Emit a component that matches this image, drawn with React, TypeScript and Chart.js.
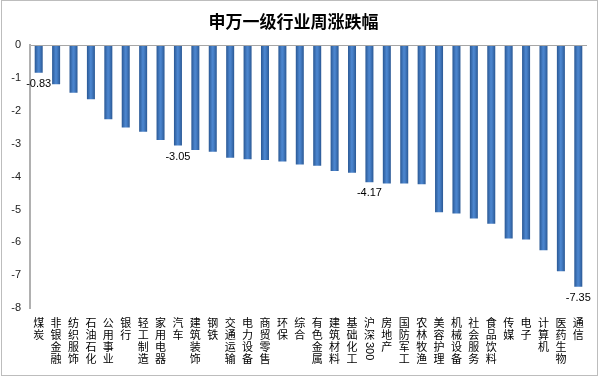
import React, { useEffect, useRef } from "react";
import { Chart, registerables } from "chart.js";

Chart.register(...registerables);

const TITLE = "申万一级行业周涨跌幅";

const categories: string[] = [
  "煤炭", "非银金融", "纺织服饰", "石油石化", "公用事业", "银行", "轻工制造", "家用电器",
  "汽车", "建筑装饰", "钢铁", "交通运输", "电力设备", "商贸零售", "环保", "综合",
  "有色金属", "建筑材料", "基础化工", "沪深300", "房地产", "国防军工", "农林牧渔", "美容护理",
  "机械设备", "社会服务", "食品饮料", "传媒", "电子", "计算机", "医药生物", "通信",
];

const values: number[] = [
  -0.83, -1.18, -1.44, -1.64, -2.25, -2.5, -2.63, -2.88,
  -3.05, -3.19, -3.24, -3.42, -3.47, -3.49, -3.54, -3.63,
  -3.67, -3.83, -3.88, -4.17, -4.21, -4.21, -4.23, -5.08,
  -5.12, -5.27, -5.43, -5.88, -5.91, -6.24, -6.88, -7.35,
];

const labeledIndices: number[] = [0, 8, 19, 31];

const yTicks: number[] = [0, -1, -2, -3, -4, -5, -6, -7, -8];

const CJK_FONT = '"Noto Sans CJK SC", "Noto Sans", sans-serif';
const NUM_FONT = '"Liberation Sans", "DejaVu Sans", sans-serif';

const frameAndLabels = {
  id: "frameAndLabels",
  beforeDraw(chart: any) {
    const c = chart.ctx;
    c.save();
    c.fillStyle = "#ffffff";
    c.fillRect(0, 0, chart.width, chart.height);
    c.strokeStyle = "#bdbdbd";
    c.lineWidth = 1;
    c.strokeRect(1.5, 0.5, chart.width - 4, chart.height - 2);
    c.restore();
  },
  afterDatasetsDraw(chart: any) {
    const c = chart.ctx;
    const meta = chart.getDatasetMeta(0);
    c.save();
    c.fillStyle = "#000000";
    c.font = `11px ${NUM_FONT}`;
    c.textAlign = "center";
    c.textBaseline = "middle";
    labeledIndices.forEach((i) => {
      const el = meta.data[i];
      if (!el) return;
      const v = chart.data.datasets[0].data[i] as number;
      c.fillText(v.toFixed(2), el.x, el.y + 11);
    });
    c.restore();
  },
  afterDraw(chart: any) {
    const c = chart.ctx;
    const xs = chart.scales.x;
    const labels: string[] = chart.data.labels;
    const top = chart.chartArea.bottom + 15;
    const lh = 12;
    c.save();
    c.fillStyle = "#000000";
    c.textBaseline = "middle";
    labels.forEach((lab, i) => {
      const x = xs.getPixelForValue(i);
      let y = top;
      const parts = lab.match(/[0-9A-Za-z]+|./g) || [];
      parts.forEach((p) => {
        if (/^[0-9A-Za-z]+$/.test(p)) {
          c.font = `11px ${NUM_FONT}`;
          const w = c.measureText(p).width;
          c.save();
          c.translate(x, y - lh / 2 + w / 2 + 1);
          c.rotate(Math.PI / 2);
          c.textAlign = "center";
          c.fillText(p, 0, 0);
          c.restore();
          y += w + 2;
        } else {
          c.font = `11px ${CJK_FONT}`;
          c.textAlign = "center";
          c.fillText(p, x, y);
          y += lh;
        }
      });
    });
    c.restore();
  },
};

export default function App() {
  const ref = useRef<HTMLCanvasElement>(null);

  useEffect(() => {
    if (!ref.current) return;
    const chart = new Chart(ref.current, {
      type: "bar",
      data: {
        labels: categories,
        datasets: [
          {
            data: values,
            backgroundColor: (ctx: any) => {
              const chart = ctx.chart;
              const xs = chart.scales && chart.scales.x;
              if (!xs || ctx.type !== "data") return "#3a6fb6";
              const cx = xs.getPixelForValue(ctx.dataIndex);
              if (!Number.isFinite(cx)) return "#3a6fb6";
              const w = 8;
              const g = chart.ctx.createLinearGradient(cx - w / 2, 0, cx + w / 2, 0);
              g.addColorStop(0, "#2a5894");
              g.addColorStop(0.45, "#4c86cf");
              g.addColorStop(0.6, "#4780c8");
              g.addColorStop(1, "#2a5894");
              return g;
            },
            borderWidth: 0,
            barPercentage: 0.46,
            categoryPercentage: 1,
          },
        ],
      },
      options: {
        responsive: false,
        animation: false,
        layout: { padding: { left: 0, right: 13, top: 0, bottom: 0 } },
        plugins: {
          legend: { display: false },
          tooltip: { enabled: false },
          title: {
            display: true,
            text: TITLE,
            color: "#000000",
            font: { family: CJK_FONT, size: 17, weight: "bold", lineHeight: 1.2 },
            padding: { top: 11, bottom: 14 },
          },
        },
        scales: {
          x: {
            offset: true,
            grid: { display: false, drawTicks: false },
            border: { display: false },
            ticks: { display: false },
            afterFit: (scale: any) => {
              scale.height = 69;
            },
          },
          y: {
            min: -8,
            max: 0,
            afterBuildTicks: (scale: any) => {
              scale.ticks = yTicks.map((v) => ({ value: v }));
            },
            grid: {
              drawTicks: false,
              color: (ctx: any) => (ctx.tick && ctx.tick.value === 0 ? "#a6a6a6" : "rgba(0,0,0,0)"),
              lineWidth: 1,
            },
            border: { display: true, color: "#b0b0b0", width: 2 },
            ticks: {
              color: "#222222",
              font: { family: NUM_FONT, size: 11 },
              padding: 9,
            },
            afterFit: (scale: any) => {
              scale.width = 30;
            },
          },
        },
      },
      plugins: [frameAndLabels],
    });
    return () => chart.destroy();
  }, []);

  return (
    <div style={{ position: "absolute", left: 0, top: 0, width: 600, height: 377 }}>
      <canvas ref={ref} width={600} height={377} style={{ display: "block" }} />
    </div>
  );
}
